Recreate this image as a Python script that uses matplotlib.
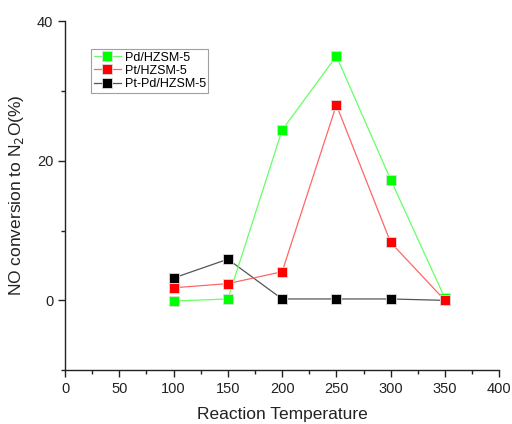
import matplotlib
matplotlib.use("Agg")
import matplotlib.pyplot as plt
from matplotlib.ticker import MultipleLocator, FixedLocator

plt.rcParams['font.family'] = ['Liberation Sans', 'DejaVu Sans']

temperature = [100, 150, 200, 250, 300, 350]
pd_hzsm5 = [-0.1, 0.2, 24.4, 35.0, 17.3, 0.3]
pt_hzsm5 = [1.8, 2.4, 4.1, 28.0, 8.3, 0.0]
ptpd_hzsm5 = [3.2, 5.9, 0.2, 0.2, 0.2, 0.0]

# (label, values, marker colour, line colour, z-order)
series = [
    ("Pd/HZSM-5", pd_hzsm5, "#00ff00", "#66ff66", 3),
    ("Pt/HZSM-5", pt_hzsm5, "#ff0000", "#ff6666", 4),
    ("Pt-Pd/HZSM-5", ptpd_hzsm5, "#000000", "#555555", 2),
]

fig = plt.figure(figsize=(5.12, 4.24), dpi=100)
ax = fig.add_axes([0.127, 0.127, 0.848, 0.823])

for label, vals, mcol, lcol, z in series:
    ax.plot(temperature, vals, color=lcol, lw=0.9, marker="s", markersize=7,
            markerfacecolor=mcol, markeredgecolor="#dddddd", markeredgewidth=0.6,
            label=label, zorder=z)

ax.set_xlim(0, 400)
ax.set_ylim(-10, 40)
ax.xaxis.set_major_locator(MultipleLocator(50))
ax.xaxis.set_minor_locator(MultipleLocator(25))
ax.yaxis.set_major_locator(FixedLocator([0, 20, 40]))
ax.yaxis.set_minor_locator(FixedLocator([-10, 10, 30]))

for s in ("top", "right"):
    ax.spines[s].set_visible(False)
for s in ("left", "bottom"):
    ax.spines[s].set_linewidth(1.0)
    ax.spines[s].set_color("#222222")

ax.tick_params(which="major", direction="out", length=5, width=1.0, labelsize=10.5, colors="#222222")
ax.tick_params(which="minor", direction="out", length=3, width=1.0, colors="#222222")

ax.set_xlabel("Reaction Temperature", fontsize=12.5, labelpad=8, color="#222222")
ax.set_ylabel("NO conversion to N$_2$O(%)", fontsize=12.5, labelpad=8, color="#222222")

leg = ax.legend(loc="upper left", bbox_to_anchor=(0.06, 0.92), fontsize=9,
                frameon=True, fancybox=False, edgecolor="#888888",
                handlelength=2.2, handletextpad=0.3, borderpad=0.2,
                labelspacing=0.1, borderaxespad=0)
leg.get_frame().set_linewidth(0.8)

fig.savefig("out.png", dpi=100)
